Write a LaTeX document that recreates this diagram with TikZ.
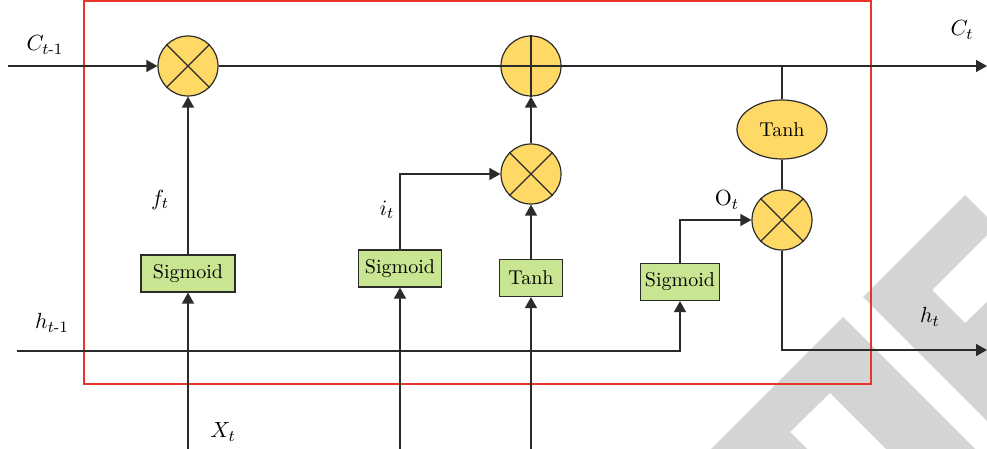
\documentclass[tikz,border=0pt]{standalone}
\usepackage{amsmath}
\usetikzlibrary{arrows.meta,shapes.geometric}
\definecolor{opfill}{HTML}{FFD966}
\definecolor{gatefill}{HTML}{C8E592}
\definecolor{linegray}{HTML}{2B2B2B}
\definecolor{cellred}{HTML}{E8342C}
\definecolor{markgray}{HTML}{D4D4D4}
\tikzset{
  wire/.style={draw=linegray, line width=0.8pt},
  arr/.style={wire, -{Triangle[length=5.5pt,width=6pt]}},
  op/.style={circle, draw=linegray, fill=opfill, line width=0.6pt, minimum size=30pt, inner sep=0pt},
  optanh/.style={ellipse, draw=linegray, fill=opfill, line width=0.6pt, minimum width=45pt, minimum height=29.5pt, inner sep=0pt, font=\fontsize{10}{12}\selectfont},
  gate/.style={rectangle, draw=linegray, fill=gatefill, line width=0.6pt, inner sep=0pt, minimum height=18.5pt, font=\fontsize{10}{12}\selectfont},
  stroke/.style={draw=linegray, line width=0.6pt},
  lbl/.style={font=\fontsize{11}{13}\selectfont, inner sep=0pt},
}
\begin{document}
\begin{tikzpicture}[x=0.5pt,y=-0.5pt]
\useasboundingbox (0,0) rectangle (987,449);
% background mark
\fill[markgray] (965,195) -- (863,297) -- (987,421) -- (987,302) -- (965,323) -- (932,290) -- (987,235) -- (987,217) -- cycle;
\fill[markgray] (843,317) -- (711,449) -- (807,449) -- (790,432) -- (830,393) -- (886,449) -- (975,449) -- cycle;
% cell border
\draw[cellred, line width=0.6pt] (84,1) rectangle (871,384);

% pointwise operations
\node[op] (fx) at (188,66) {};
\node[op] (add) at (531,66) {};
\node[op] (ix) at (531,174) {};
\node[op] (ox) at (782,220) {};
\node[optanh] (ct) at (782,129.5) {Tanh};
\draw[stroke] (fx.north west) -- (fx.south east) (fx.north east) -- (fx.south west);
\draw[stroke] (ix.north west) -- (ix.south east) (ix.north east) -- (ix.south west);
\draw[stroke] (ox.north west) -- (ox.south east) (ox.north east) -- (ox.south west);
\draw[stroke] (add.north) -- (add.south) (add.west) -- (add.east);

% gates
\node[gate, minimum width=47pt] (fg) at (188,273.5) {Sigmoid};
\node[gate, minimum width=41.5pt] (ig) at (400,268.5) {Sigmoid};
\node[gate, minimum width=31.5pt] (cg) at (531,278) {Tanh};
\node[gate, minimum width=39.5pt] (og) at (680,282) {Sigmoid};

% free ends
\coordinate (cin) at (8,66);
\coordinate (cout) at (987,66);
\coordinate (hin) at (17,351);
\coordinate (hout) at (987,350);
\coordinate (xf) at (188,449);
\coordinate (xi) at (400,449);
\coordinate (xc) at (531,449);

% connectors
\draw[arr] (cin) -- (fx.west);
\draw[wire] (fx.east) -- (add.west);
\draw[arr] (add.east) -- (cout);
\draw[arr] (xf) -- (fg.south);
\draw[arr] (fg.north) -- (fx.south);
\draw[arr] (xi) -- (ig.south);
\draw[arr] (ig.north) |- (ix.west);
\draw[arr] (xc) -- (cg.south);
\draw[arr] (cg.north) -- (ix.south);
\draw[arr] (ix.north) -- (add.south);
\draw[arr] (hin) -| (og.south);
\draw[arr] (og.north) |- (ox.west);
\draw[wire] (ct.north |- cin) -- (ct.north);
\draw[wire] (ct.south) -- (ox.north);
\draw[arr] (ox.south) |- (hout);

% labels
\node[lbl] (lc0) at (45,45) {$C_{t\text{-}1}$};
\node[lbl] (lc1) at (962,30) {$C_t$};
\node[lbl] (lh0) at (52,323) {$h_{t\text{-}1}$};
\node[lbl] (lh1) at (930,317) {$h_t$};
\node[lbl] (lx) at (223,432) {$X_t$};
\node[lbl] (lf) at (160,200) {$f_t$};
\node[lbl] (li) at (387,210) {$i_t$};
\node[lbl] (lo) at (727,200) {$\mathrm{O}_t$};
\end{tikzpicture}
\end{document}
